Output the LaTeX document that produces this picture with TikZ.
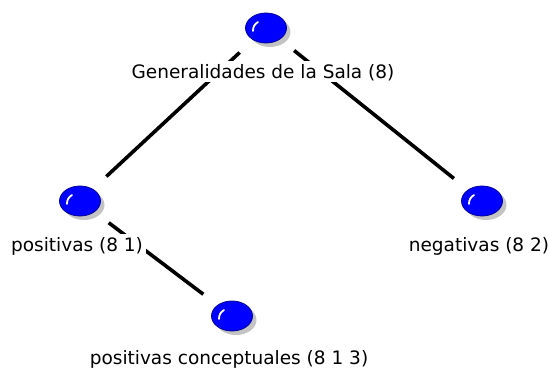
\documentclass[tikz,border=0pt]{standalone}
\usepackage{fontspec}
\setmainfont{DejaVu Sans}
\usetikzlibrary{shapes.geometric,shadows,backgrounds}
\definecolor{ballblue}{RGB}{0,0,255}
\definecolor{balledge}{RGB}{0,0,150}
\definecolor{ballshadow}{RGB}{195,195,195}
\tikzset{
ball/.style={ellipse,draw=balledge,fill=ballblue,line width=0.8pt,
    minimum width=41pt,minimum height=30pt,inner sep=0pt,
    drop shadow={shadow xshift=4pt,shadow yshift=-4pt,fill=ballshadow,opacity=1},
    path picture={\draw[white,line width=1.8pt,line cap=round]
        ([shift={(-13pt,-3pt)}]path picture bounding box.center)
        to[bend left=30] ([shift={(-8pt,6pt)}]path picture bounding box.center);}},
lbl/.style={rectangle,draw=none,fill=white,text=black,
    font=\fontsize{18.5}{22}\selectfont,inner xsep=3pt,inner ysep=2pt,
    text height=15pt,text depth=2pt,label distance=17.6pt,xshift=-3pt},
link/.style={black,line width=3.6pt,shorten <=36pt,shorten >=36pt}
}
\begin{document}
\begin{tikzpicture}[
x=1pt,y=1pt,
level 1/.style={level distance=173pt,sibling distance=402pt},
level 2/.style={level distance=115pt},
edge from parent/.style={draw=none}
]
\useasboundingbox (0,0) rectangle (549,-369);
\node[ball,label={[lbl]below:Generalidades de la Sala (8)}] (root) at (266,-28) {}
child[xshift=15pt]{
    node[ball,label={[lbl]below:positivas (8 1)}] (pos) {}
    child[xshift=152pt] {
        node[ball,label={[lbl,label distance=16pt]below:positivas conceptuales (8 1 3)}] (conc) {}
    }
}
child[xshift=15pt] {
    node[ball,label={[lbl]below:negativas (8 2)}] (neg) {}
};
\begin{pgfonlayer}{background}
\draw[link] (root.center) -- (pos.center);
\draw[link] (root.center) -- (neg.center);
\draw[link] (pos.center) -- (conc.center);
\end{pgfonlayer}
\end{tikzpicture}
\end{document}
